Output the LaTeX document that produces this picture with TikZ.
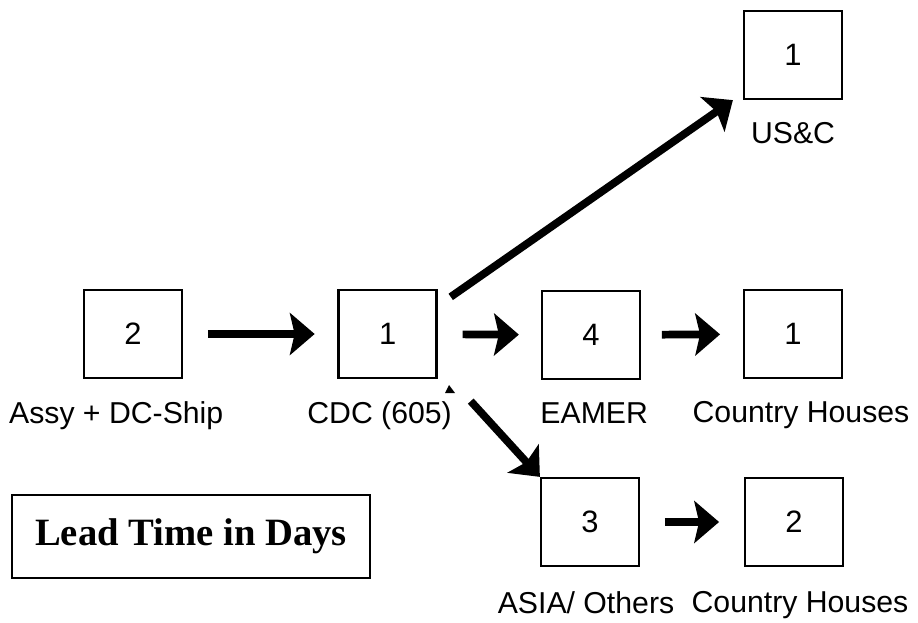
\documentclass[tikz,border=0pt]{standalone}
\usepackage{fontspec}
\setmainfont{Liberation Serif}
\setsansfont{Liberation Sans}
\usetikzlibrary{arrows.meta,positioning}

\begin{document}
\begin{tikzpicture}[
    box/.style={draw, line width=1.6pt, minimum width=2.45cm, minimum height=2.2cm, inner sep=0pt, font=\sffamily\fontsize{22}{26}\selectfont},
    lbl/.style={inner sep=0pt, font=\sffamily\fontsize{21.5}{26}\selectfont},
    flow/.style={-{Stealth[length=0.62cm, width=1.05cm, inset=0.12cm]}, line width=5.5pt}
]
    \useasboundingbox (0, 0) rectangle (22.95, 15.55);
    % lead time boxes
    \node[box] (assy) at (3.325, 7.2) {2};
    \node[box] (cdc) at (9.69, 7.2) {1};
    \node[box] (eamer) at (14.775, 7.175) {4};
    \node[box] (cha) at (19.825, 7.2) {1};
    \node[box] (usc) at (19.825, 14.175) {1};
    \node[box] (asia) at (14.75, 2.5) {3};
    \node[box] (chb) at (19.85, 2.5) {2};
    % labels under the boxes
    \node[lbl, below=0.55cm of assy, xshift=-0.42cm] (assylbl) {Assy + DC-Ship};
    \node[lbl, below=0.55cm of cdc, xshift=-0.2cm] (cdclbl) {CDC (605)};
    \node[lbl, below=0.55cm of eamer, xshift=0.08cm] (eamerlbl) {EAMER};
    \node[lbl, below=0.55cm of cha, xshift=0.2cm] (chalbl) {Country Houses};
    \node[lbl, below=0.55cm of usc] (usclbl) {US\&C};
    \node[lbl, below=0.6cm of asia, xshift=-0.1cm] (asialbl) {ASIA/ Others};
    \node[lbl, below=0.6cm of chb, xshift=0.15cm] (chblbl) {Country Houses};
    \node[draw, line width=1.3pt, minimum width=8.95cm, minimum height=2.075cm, font=\rmfamily\bfseries\fontsize{27.5}{33}\selectfont] (lead) at (4.775, 2.1375) {Lead Time in Days};
    % flows
    \draw[flow, shorten <=0.62cm, shorten >=0.57cm] (assy) -- (cdc);
    \draw[flow, shorten <=0.62cm, shorten >=0.55cm] (cdc) -- (eamer);
    \draw[flow, shorten <=0.52cm, shorten >=0.57cm] (eamer) -- (cha);
    \draw[flow, shorten <=0.62cm, shorten >=0.62cm] (asia) -- (chb);
    \draw[flow] ([shift={(0.325cm, -0.2cm)}]cdc.north east) -- ([xshift=-0.25cm]usc.south west);
    \draw[flow] ([shift={(0.825cm, -0.55cm)}]cdc.south east) -- (asia.north west);
    \fill (11.125, 5.725) -- (11.225, 5.925) -- (11.375, 5.725) -- cycle;
\end{tikzpicture}
\end{document}
